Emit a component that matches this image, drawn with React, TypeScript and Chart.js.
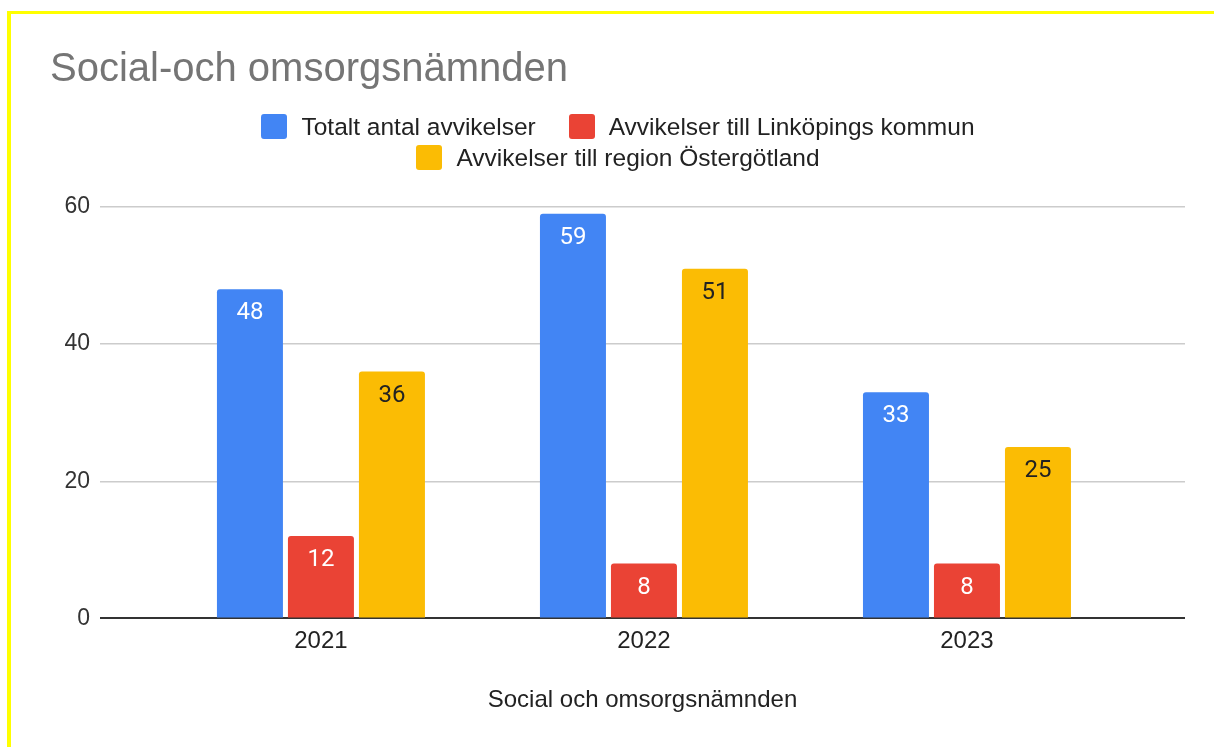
import React, { useEffect, useRef } from "react";
import { Chart, registerables } from "chart.js";

Chart.register(...registerables);

const years = ["2021", "2022", "2023"];
const seriesNames = [
  "Totalt antal avvikelser",
  "Avvikelser till Linköpings kommun",
  "Avvikelser till region Östergötland",
];
const totalt = [48, 59, 33];
const linkoping = [12, 8, 8];
const region = [36, 51, 25];
const seriesValues = [totalt, linkoping, region];
const colors = ["#4285F4", "#EA4335", "#FBBC04"];
const labelColors = ["#ffffff", "#ffffff", "#222222"];
const yMax = 60;
const yStep = 20;
const chartTitle = "Social-och omsorgsnämnden";
const xTitle = "Social och omsorgsnämnden";

const SANS = "'Liberation Sans', Arial, sans-serif";

const barLabelPlugin = {
  id: "barLabels",
  afterDatasetsDraw(chart: any) {
    const ctx = chart.ctx;
    ctx.save();
    ctx.font = "24px Roboto";
    ctx.textAlign = "center";
    ctx.textBaseline = "middle";
    chart.data.datasets.forEach((ds: any, di: number) => {
      const meta = chart.getDatasetMeta(di);
      meta.data.forEach((bar: any, i: number) => {
        ctx.fillStyle = labelColors[di];
        ctx.fillText(String(ds.data[i].y), bar.x, bar.y + 24);
      });
    });
    ctx.restore();
  },
};

export default function App() {
  const canvasRef = useRef<HTMLCanvasElement | null>(null);

  useEffect(() => {
    if (!canvasRef.current) return;
    const chart = new Chart(canvasRef.current, {
      type: "bar",
      data: {
        datasets: seriesValues.map((vals, di) => ({
          label: seriesNames[di],
          data: vals.map((v, i) => ({ x: i, y: v })),
          backgroundColor: colors[di],
          borderRadius: 3,
          categoryPercentage: 0.6594,
          barPercentage: 0.9296,
        })),
      },
      options: {
        animation: false,
        responsive: false,
        devicePixelRatio: 1,
        layout: { padding: { left: 50, right: 29, top: 0, bottom: 0 } },
        plugins: {
          legend: { display: false },
          tooltip: { enabled: false },
          title: {
            display: true,
            text: chartTitle,
            align: "start",
            color: "#757575",
            font: { family: SANS, size: 40, weight: "normal", lineHeight: 1.2 },
            padding: { top: 46, bottom: 113 },
          },
        },
        scales: {
          x: {
            type: "linear",
            offset: false,
            min: -0.684,
            max: 2.675,
            afterBuildTicks: (scale: any) => {
              scale.ticks = years.map((_, i) => ({ value: i }));
            },
            ticks: {
              callback: (v: any) => years[Math.round(Number(v))] ?? "",
              color: "#222",
              font: { family: SANS, size: 24, lineHeight: 1.2 },
              padding: 9,
              maxRotation: 0,
              autoSkip: false,
            },
            grid: { display: false, drawTicks: false, offset: false },
            border: { display: false },
            title: {
              display: true,
              text: xTitle,
              color: "#222",
              font: { family: SANS, size: 24, lineHeight: 1.2 },
              padding: { top: 21, bottom: 32 },
            },
          },
          y: {
            min: 0,
            max: yMax,
            afterFit: (scale: any) => {
              scale.width = 50;
            },
            ticks: {
              stepSize: yStep,
              color: "#333",
              font: { family: SANS, size: 23 },
              padding: 10,
            },
            grid: {
              drawTicks: false,
              color: (ctx: any) => (ctx.tick && ctx.tick.value === 0 ? "#333333" : "#cccccc"),
              lineWidth: (ctx: any) => (ctx.tick && ctx.tick.value === 0 ? 2 : 1.5),
            },
            border: { display: false },
          },
        },
      },
      plugins: [barLabelPlugin],
    } as any);
    return () => chart.destroy();
  }, []);

  return (
    <div
      style={{
        position: "fixed",
        left: 0,
        top: 0,
        width: 1214,
        height: 747,
        overflow: "hidden",
        background: "#ffffff",
      }}
    >
      <canvas ref={canvasRef} width={1214} height={747} style={{ position: "absolute", left: 0, top: 0 }} />
      <div
        style={{
          position: "absolute",
          left: 7,
          top: 11,
          width: 1300,
          height: 800,
          borderTop: "3px solid #ffff00",
          borderLeft: "4px solid #ffff00",
          boxSizing: "border-box",
          pointerEvents: "none",
        }}
      />
      <div
        style={{
          position: "absolute",
          left: 238,
          top: 114,
          width: 760,
          display: "flex",
          flexWrap: "wrap",
          justifyContent: "center",
          columnGap: 33,
          rowGap: 6,
          fontFamily: SANS,
          fontSize: 24.5,
          color: "#222",
        }}
      >
        {seriesNames.map((name, i) => (
          <div key={name} style={{ display: "flex", alignItems: "center", height: 25 }}>
            <span
              style={{
                display: "inline-block",
                width: 26,
                height: 25,
                borderRadius: 3,
                background: colors[i],
                marginRight: 14,
              }}
            />
            <span style={{ lineHeight: "25px", whiteSpace: "nowrap" }}>{name}</span>
          </div>
        ))}
      </div>
    </div>
  );
}
